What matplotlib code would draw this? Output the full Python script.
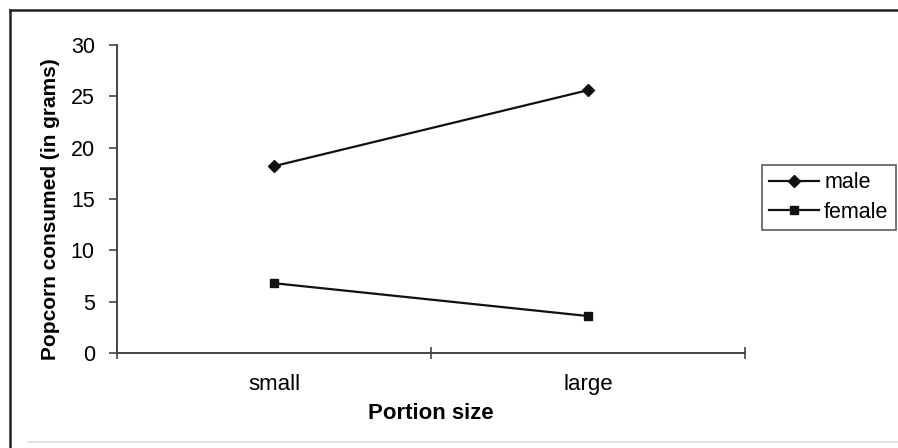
import matplotlib
matplotlib.use("Agg")
import matplotlib.pyplot as plt
from matplotlib.lines import Line2D

categories = ["small", "large"]
male = [18.2, 25.6]
female = [6.8, 3.6]
yticks = [0, 5, 10, 15, 20, 25, 30]

plt.rcParams['font.family'] = ['Liberation Sans', 'DejaVu Sans']

W, H = 898, 448
fig = plt.figure(figsize=(W / 100, H / 100), dpi=100)
fig.patch.set_facecolor("white")

def fx(px):
    return px / W

def fy(py):
    return 1 - py / H

# outer frame: dark left and top edges, faint bottom edge
fig.add_artist(Line2D([fx(10), fx(10)], [fy(10), fy(448)], transform=fig.transFigure,
                      color="#222222", lw=1.8))
fig.add_artist(Line2D([fx(10), fx(898)], [fy(10), fy(10)], transform=fig.transFigure,
                      color="#222222", lw=1.8))
fig.add_artist(Line2D([fx(28), fx(898)], [fy(442), fy(442)], transform=fig.transFigure,
                      color="#dddddd", lw=1.2))

ax = fig.add_axes([fx(117), fy(353), (745 - 117) / W, (353 - 45) / H])
x = [1, 2]
ax.plot(x, male, color="#111111", lw=1.6, marker="D", markersize=6, label="male")
ax.plot(x, female, color="#111111", lw=1.6, marker="s", markersize=6, label="female")

ax.set_xlim(0.5, 2.5)
ax.set_ylim(0, 30)
ax.set_yticks(yticks)
ax.set_xticks([0.5, 1.5, 2.5])
ax.set_xticklabels([])
ax.set_xticks(x, minor=True)
ax.set_xticklabels(categories, minor=True)
ax.tick_params(axis="x", which="minor", length=0, pad=15, labelsize=16)
ax.tick_params(axis="x", which="major", direction="inout", length=8, width=1.2, color="#444444")
ax.tick_params(axis="y", direction="out", length=6, width=1.2, color="#444444", labelsize=15.5, pad=10)

for s in ["top", "right"]:
    ax.spines[s].set_visible(False)
for s in ["left", "bottom"]:
    ax.spines[s].set_color("#444444")
    ax.spines[s].set_linewidth(1.4)

ax.set_xlabel("Portion size", fontsize=16, fontweight="bold", labelpad=6)
ax.set_ylabel("Popcorn consumed (in grams)", fontsize=15, fontweight="bold")
ax.yaxis.set_label_coords((60 - 117) / (745 - 117), (353 - 209) / (353 - 45))

leg = fig.legend(loc="upper left", bbox_to_anchor=(fx(762), fy(165)),
                 fontsize=15.5, frameon=True, fancybox=False, edgecolor="#333333",
                 handlelength=2.33, handletextpad=0.23, borderpad=0.33,
                 labelspacing=0.4, borderaxespad=0)
leg.get_frame().set_linewidth(1.2)

fig.savefig("out.png", dpi=100, facecolor="white")
